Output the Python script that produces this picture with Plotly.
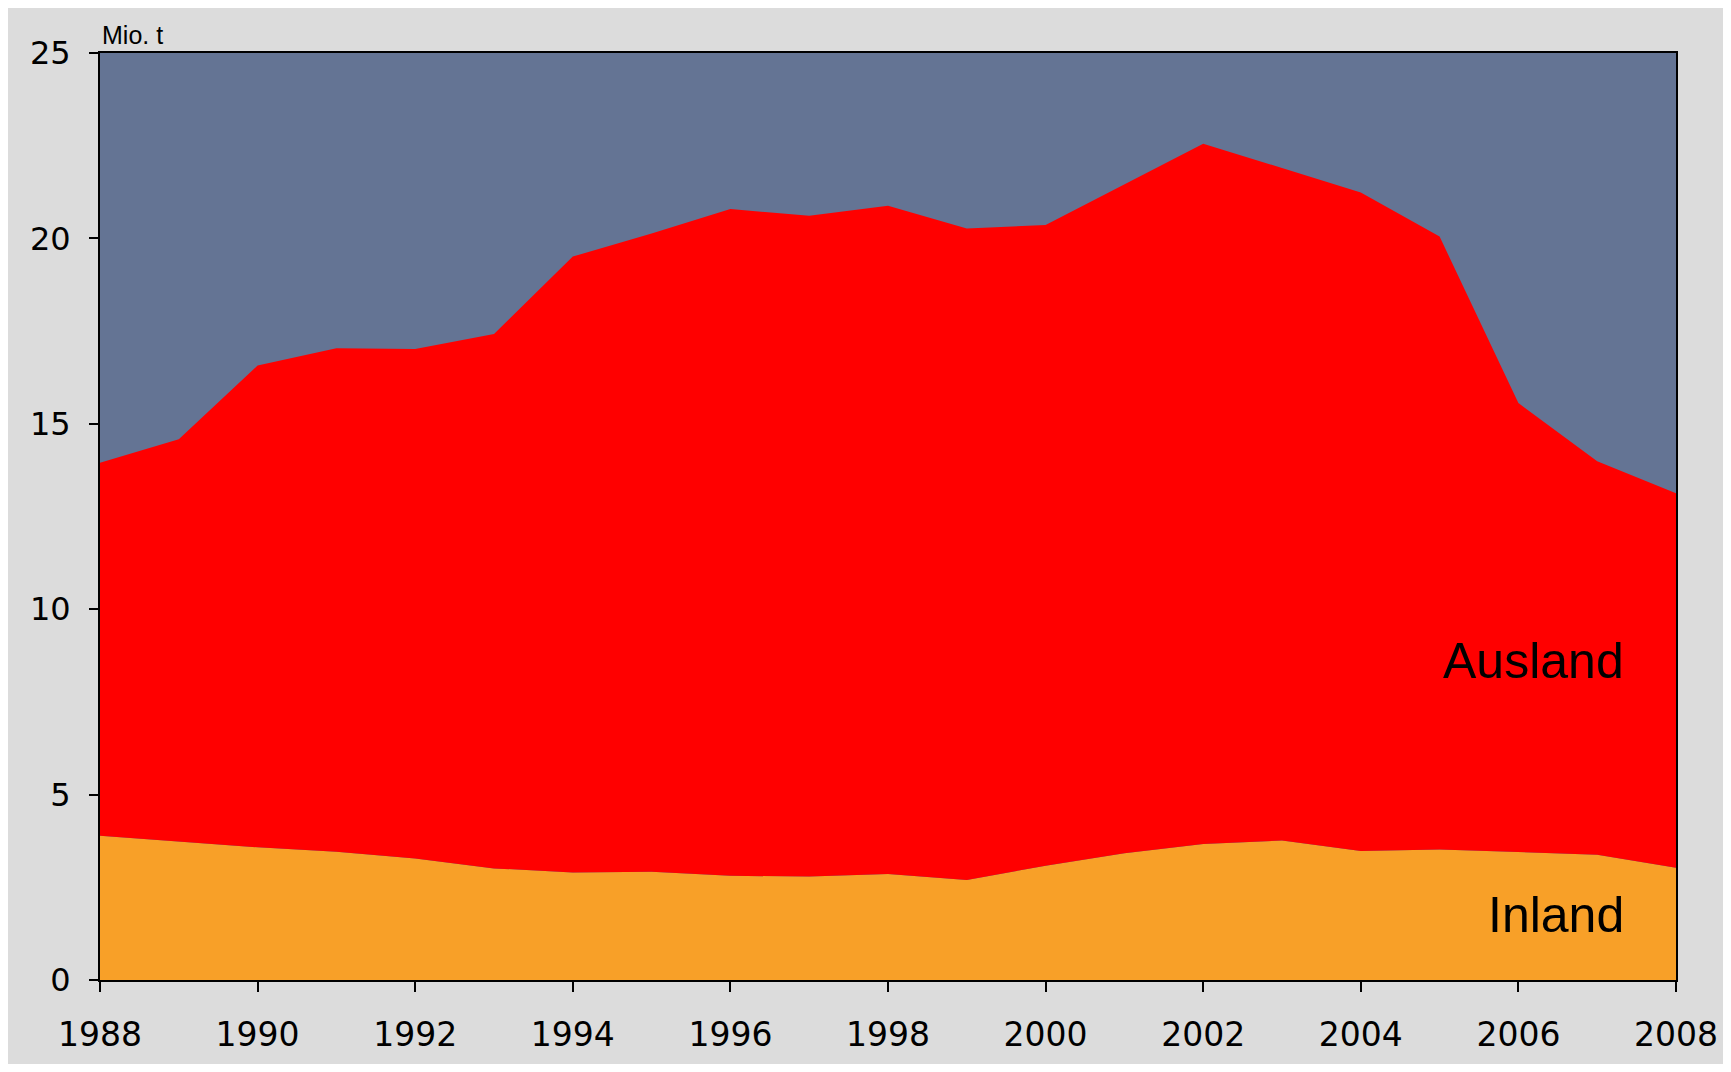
import plotly.graph_objects as go

years = list(range(1988, 2009))
inland = [3.89, 3.73, 3.58, 3.46, 3.28, 3.01, 2.90, 2.92, 2.81, 2.79, 2.86,
          2.70, 3.08, 3.42, 3.67, 3.76, 3.48, 3.52, 3.46, 3.38, 3.03]
ausland = [10.06, 10.85, 12.99, 13.58, 13.74, 14.41, 16.61, 17.21, 17.98, 17.82, 18.02,
           17.57, 17.28, 18.03, 18.88, 18.14, 17.76, 16.53, 12.10, 10.61, 10.10]
y_ticks = [0, 5, 10, 15, 20, 25]
x_ticks = list(range(1988, 2009, 2))

FONT = "Liberation Sans, Arial, sans-serif"
TICKFONT = "DejaVu Sans, Liberation Sans, sans-serif"

fig = go.Figure()
fig.add_trace(go.Scatter(x=years, y=inland, name="Inland", stackgroup="s",
                         mode="lines", line=dict(width=0, color="#F8A028"),
                         fillcolor="#F8A028"))
fig.add_trace(go.Scatter(x=years, y=ausland, name="Ausland", stackgroup="s",
                         mode="lines", line=dict(width=0, color="#FF0000"),
                         fillcolor="#FF0000"))

fig.update_layout(
    width=1715, height=1056,
    margin=dict(l=92, r=47, t=45, b=84),
    paper_bgcolor="#DCDCDC",
    plot_bgcolor="#647494",
    showlegend=False,
    font=dict(family=FONT, color="black", size=34),
    xaxis=dict(range=[1988, 2008], tickvals=x_ticks, ticks="outside", ticklen=10,
               tickwidth=1.5, tickcolor="black", showgrid=False, zeroline=False,
               showline=True, linecolor="black", linewidth=2, mirror=True,
               automargin=False,
               tickfont=dict(size=33, family=TICKFONT), ticklabelstandoff=14),
    yaxis=dict(range=[0, 25], tickvals=y_ticks, ticks="outside", ticklen=9,
               tickwidth=1.5, tickcolor="black", showgrid=False, zeroline=False,
               showline=True, linecolor="black", linewidth=2, mirror=True,
               automargin=False,
               tickfont=dict(size=32, family=TICKFONT), ticklabelstandoff=12),
    annotations=[
        dict(text="Mio. t", xref="paper", yref="paper", x=0.0, y=1,
             xanchor="left", yanchor="bottom", showarrow=False, yshift=2,
             font=dict(size=25, family=FONT)),
        dict(text="Ausland", xref="paper", yref="y", x=0.968, y=8.6,
             xanchor="right", yanchor="middle", showarrow=False,
             font=dict(size=50, family=FONT)),
        dict(text="Inland", xref="paper", yref="y", x=0.968, y=1.75,
             xanchor="right", yanchor="middle", showarrow=False,
             font=dict(size=50, family=FONT)),
    ],
)

fig.write_html("out.html")
